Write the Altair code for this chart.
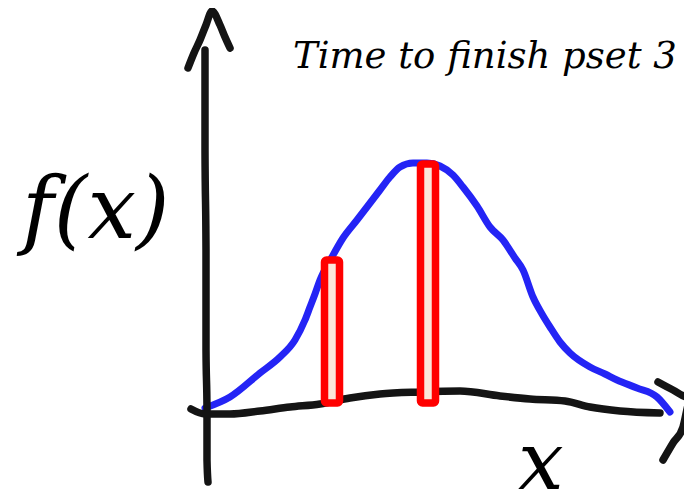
import altair as alt
import pandas as pd

# ---- data (sketch units: origin where the hand-drawn axes cross) ----
curve_x = [0, 25, 55, 75, 90, 100, 105, 110, 115, 127, 138, 152, 162, 175, 185, 195,
           208, 222, 235, 248, 258, 272, 285, 298, 310, 318, 328, 337, 345, 355, 365,
           385, 400, 412, 432, 452, 465]
curve_y = [2, 13, 37, 53, 70, 90, 103, 116, 130, 153, 172, 190, 203, 220, 233, 243,
           247, 247, 244, 235, 223, 204, 183, 170, 152, 140, 113, 96, 83, 68, 57,
           43, 36, 30, 22, 13, -2]

xaxis_x = [-14, 0, 25, 55, 85, 115, 145, 175, 215, 255, 295, 325, 360, 385, 415, 455]
xaxis_y = [1, -4, -4, -1, 3, 6, 12, 16, 18, 19, 14, 11, 9, 3, -1, -3]

yaxis_x = [0, 0, 1, 1, 2, 2, 3]
yaxis_y = [360, 260, 160, 60, 0, -50, -72]

yarrow_x = [-17, -11, -5, 1, 7, 15, 20, 25]
yarrow_y = [342, 357, 370, 385, 399, 385, 373, 362]

xarrow_x = [453, 468, 485, 483, 478, 468, 458]
xarrow_y = [28, 20, 12, 5, -17, -33, -50]

bar_center = [127, 223]
bar_top = [150, 246]
bar_base = 7

title_text = "Time to finish pset 3"
ylabel_text = "f(x)"
xlabel_text = "x"

# ---- layout ----
W, H = 676, 483
OX, OY = 205, 410          # page position of the sketch origin
xs = alt.Scale(domain=[8 - OX, 8 + W - OX], nice=False, zero=False)
ys = alt.Scale(domain=[OY - (8 + H), OY - 8], nice=False, zero=False)

def path_df(name, xv, yv):
    return pd.DataFrame({"path": name, "order": list(range(len(xv))), "x": xv, "y": yv})

black_df = pd.concat([
    path_df("yaxis", yaxis_x, yaxis_y),
    path_df("yarrow", yarrow_x, yarrow_y),
    path_df("xaxis", xaxis_x, xaxis_y),
    path_df("xarrow", xarrow_x, xarrow_y),
])
curve_df = pd.DataFrame({"x": curve_x, "y": curve_y, "order": list(range(len(curve_x)))})
bars_df = pd.DataFrame({"c": bar_center, "top": bar_top, "base": bar_base})

X = lambda f: alt.X(f, type="quantitative", scale=xs, axis=None)
Y = lambda f: alt.Y(f, type="quantitative", scale=ys, axis=None)

black = alt.Chart(black_df).mark_line(
    color="#141414", strokeWidth=7.5, strokeCap="round", strokeJoin="round", interpolate="monotone"
).encode(x=X("x"), y=Y("y"), detail="path:N", order="order:Q")

blue = alt.Chart(curve_df).mark_line(
    color="#2424f5", strokeWidth=7, strokeCap="round", strokeJoin="round", interpolate="monotone"
).encode(x=X("x"), y=Y("y"), order="order:Q")

bars = alt.Chart(bars_df).transform_calculate(
    x0="datum.c - 7.5", x1="datum.c + 7.5"
).mark_rect(
    fill="#fbe6da", stroke="#ff0000", strokeWidth=7.5, cornerRadius=2, strokeJoin="round"
).encode(x=X("x0"), x2="x1:Q", y=Y("base"), y2="top:Q")

SERIF = "DejaVu Serif"

def label(txt, x, y, size, style):
    return alt.Chart(pd.DataFrame({"t": [txt], "x": [x], "y": [y]})).mark_text(
        font=SERIF, fontSize=size, fontStyle=style, align="left",
        baseline="alphabetic", color="black"
    ).encode(x=X("x"), y=Y("y"), text="t:N")

texts = [
    label(title_text, 88, 342, 37, "italic"),
    label(ylabel_text, -183, 172, 86, "italic"),
    label(xlabel_text, 313, -79, 81, "italic"),
]

chart = alt.layer(blue, black, bars, *texts).properties(
    width=W, height=H, padding=0,
    autosize=alt.AutoSizeParams(type="none"),
    background="white",
).configure_view(stroke=None)

chart.save("out.html", embed_options={"renderer": "svg", "actions": False})
